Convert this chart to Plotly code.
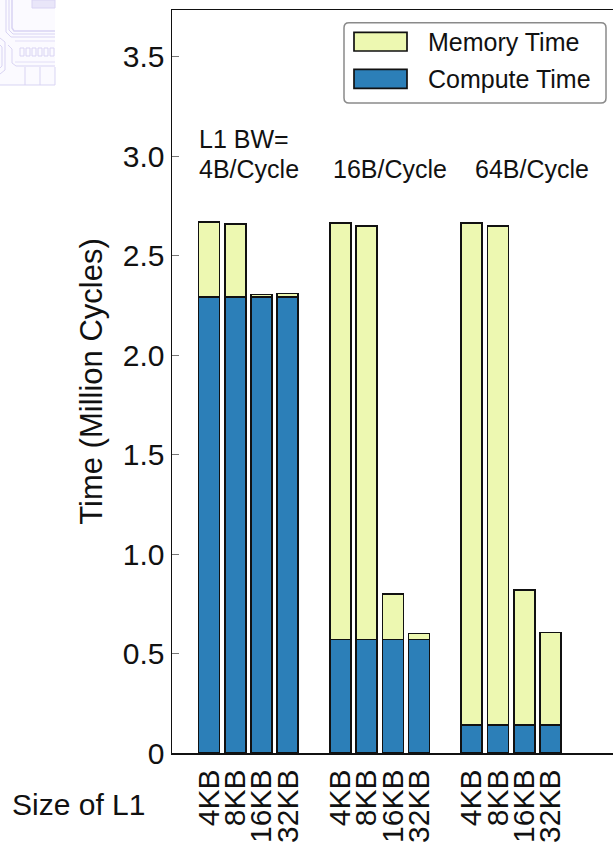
import plotly.graph_objects as go

# ---------------- data ----------------
bandwidths = ["4B/Cycle", "16B/Cycle", "64B/Cycle"]
l1_sizes = ["4KB", "8KB", "16KB", "32KB"]
series_names = ["Memory Time", "Compute Time"]
# Million cycles, one value per (bandwidth, L1 size) bar
compute_time = [2.29, 2.29, 2.29, 2.29,
                0.57, 0.57, 0.57, 0.57,
                0.14, 0.14, 0.14, 0.14]
memory_time = [0.377, 0.368, 0.015, 0.02,
               2.093, 2.08, 0.23, 0.03,
               2.523, 2.51, 0.678, 0.466]
y_tick_vals = [0, 0.5, 1.0, 1.5, 2.0, 2.5, 3.0, 3.5]
y_tick_text = ["0", "0.5", "1.0", "1.5", "2.0", "2.5", "3.0", "3.5"]

# ---------------- styling ----------------
C_MEM = "#edf8b1"
C_CMP = "#2c7fb8"
FONT = "Liberation Sans, Arial, Helvetica, sans-serif"
W, H = 613, 848
L, R, T, B = 172, 613, 10, 753   # plot area in pixels

def px(x):
    return (x - L) / (R - L)

def py(y):
    return (B - y) / (B - T)

n_sizes = len(l1_sizes)
slot = n_sizes + 1
x_pos = [g * slot + j for g in range(len(bandwidths)) for j in range(n_sizes)]
x_text = [s for _ in bandwidths for s in l1_sizes]
x_range = [-1.407, 15.38]
boundaries = [k - 0.5 for k in range(-1, 17)]

fig = go.Figure()
fig.add_trace(go.Bar(x=x_pos, y=compute_time, name=series_names[1], width=0.8,
                     marker=dict(color=C_CMP, line=dict(color="#111", width=1.7)),
                     showlegend=False))
fig.add_trace(go.Bar(x=x_pos, y=memory_time, name=series_names[0], width=0.8,
                     marker=dict(color=C_MEM, line=dict(color="#111", width=1.7)),
                     showlegend=False))

# ---------------- annotations ----------------
ann = []
ann.append(dict(text="L1 BW=", x=px(197), y=py(139.5), xanchor="left", yanchor="middle",
                font=dict(size=25, color="#111", family=FONT)))
band_left = [197, 330.5, 473]
for b, xl in zip(bandwidths, band_left):
    ann.append(dict(text=b, x=px(xl), y=py(169), xanchor="left", yanchor="middle",
                    font=dict(size=25, color="#111", family=FONT)))
ann.append(dict(text="Size of L1", x=px(10), y=py(804), xanchor="left", yanchor="middle",
                font=dict(size=30, color="#111", family=FONT)))
# legend texts
ann.append(dict(text=series_names[0], x=px(426), y=py(41.7), xanchor="left", yanchor="middle",
                font=dict(size=25, color="#111", family=FONT)))
ann.append(dict(text=series_names[1], x=px(426), y=py(78.5), xanchor="left", yanchor="middle",
                font=dict(size=25, color="#111", family=FONT)))
for a in ann:
    a.update(xref="paper", yref="paper", showarrow=False)

# ---------------- shapes ----------------
shapes = []

def rounded_rect(x0, y0, x1, y1, r):
    def P(x, y):
        return f"{px(x):.5f},{py(y):.5f}"
    return ("M " + P(x0 + r, y0) + " L " + P(x1 - r, y0) + " Q " + P(x1, y0) + " " + P(x1, y0 + r) +
            " L " + P(x1, y1 - r) + " Q " + P(x1, y1) + " " + P(x1 - r, y1) +
            " L " + P(x0 + r, y1) + " Q " + P(x0, y1) + " " + P(x0, y1 - r) +
            " L " + P(x0, y0 + r) + " Q " + P(x0, y0) + " " + P(x0 + r, y0) + " Z")

shapes.append(dict(type="path", path=rounded_rect(344, 22.7, 606, 103, 5),
                   xref="paper", yref="paper", fillcolor="white",
                   line=dict(color="#8a8a8a", width=1.5), layer="above"))
shapes.append(dict(type="rect", x0=px(354), x1=px(407), y0=py(51), y1=py(32.3),
                   xref="paper", yref="paper", fillcolor=C_MEM,
                   line=dict(color="#111", width=1.7), layer="above"))
shapes.append(dict(type="rect", x0=px(354), x1=px(407), y0=py(88.3), y1=py(69.3),
                   xref="paper", yref="paper", fillcolor=C_CMP,
                   line=dict(color="#111", width=1.7), layer="above"))

# faint chip-art decoration at top-left
LAV = "#d9d4f3"
LAV_F = "#e9e6f9"
def pline(pts, color=LAV, width=1):
    d = "M " + " L ".join(f"{px(x):.5f},{py(y):.5f}" for x, y in pts)
    shapes.append(dict(type="path", path=d, xref="paper", yref="paper",
                       line=dict(color=color, width=width)))
shapes.append(dict(type="rect", x0=px(0), x1=px(55), y0=py(85), y1=py(0),
                   xref="paper", yref="paper", fillcolor="#fbfaff", line=dict(width=0), layer="below"))
shapes.append(dict(type="rect", x0=px(32), x1=px(55), y0=py(8), y1=py(0),
                   xref="paper", yref="paper", fillcolor=LAV_F, line=dict(color=LAV, width=1)))
pline([(12, 0), (12, 28), (14, 31), (55, 31)], width=1.5)
pline([(9, 0), (9, 30), (13, 34), (55, 34)])
pline([(6, 0), (6, 32), (11, 37), (55, 37)])
pline([(0, 38), (5, 42), (5, 70), (0, 74)])
pline([(0, 45), (2, 47), (2, 66), (0, 68)])
pline([(8, 45), (12, 49), (12, 63), (16, 66), (55, 66)])
pline([(15, 41), (55, 41)], color="#e2def7")
pline([(15, 62), (55, 62)], color="#e2def7")
for k in range(6):
    x0 = 20 + k * 6
    shapes.append(dict(type="rect", x0=px(x0), x1=px(x0 + 4), y0=py(56), y1=py(48),
                       xref="paper", yref="paper", line=dict(color=LAV, width=1)))
for xv in (25, 40, 55):
    pline([(xv, 67), (xv, 85)])
pline([(0, 85), (55, 85)])

# ---------------- layout ----------------
axis_common = dict(showgrid=False, zeroline=False, fixedrange=True)
fig.update_layout(
    width=W, height=H, barmode="stack",
    margin=dict(l=L, r=W - R, t=T, b=H - B, pad=0),
    paper_bgcolor="white", plot_bgcolor="white",
    font=dict(family=FONT, color="#111"),
    showlegend=False,
    xaxis=dict(range=x_range, tickvals=x_pos, ticktext=x_text, tickangle=-90,
               ticks="", showline=True, linecolor="#111", linewidth=1.5, mirror=True,
               tickfont=dict(size=30, color="#111", family=FONT), ticklabelstandoff=3,
               automargin=False, **axis_common),
    xaxis2=dict(range=x_range, overlaying="x", anchor="y", side="bottom",
                tickvals=boundaries, ticks="outside", ticklen=5, tickcolor="#555", tickwidth=1,
                showticklabels=False, showline=False, **axis_common),
    xaxis3=dict(range=x_range, overlaying="x", anchor="y", side="top",
                tickvals=boundaries, ticks="inside", ticklen=5, tickcolor="#555", tickwidth=1,
                showticklabels=False, showline=False, **axis_common),
    yaxis=dict(range=[0, 3.734], tickvals=y_tick_vals, ticktext=y_tick_text,
               ticks="inside", ticklen=7, tickcolor="#777", tickwidth=1,
               showline=True, linecolor="#111", linewidth=1.5,
               tickfont=dict(size=30, color="#111", family=FONT), ticklabelstandoff=0,
               title=dict(text="Time (Million Cycles)", font=dict(size=31, color="#111", family=FONT),
                          standoff=11),
               automargin=False, **axis_common),
    yaxis2=dict(range=[0, 3.734], overlaying="y", anchor="x", side="right",
                tickvals=y_tick_vals, ticks="inside", ticklen=4, tickcolor="#888",
                showticklabels=False, showline=False, **axis_common),
    annotations=ann,
    shapes=shapes,
)

fig.write_html("out.html", config={"displayModeBar": False, "staticPlot": True},
               post_script="document.body.style.margin='0';document.body.style.padding='0';")
